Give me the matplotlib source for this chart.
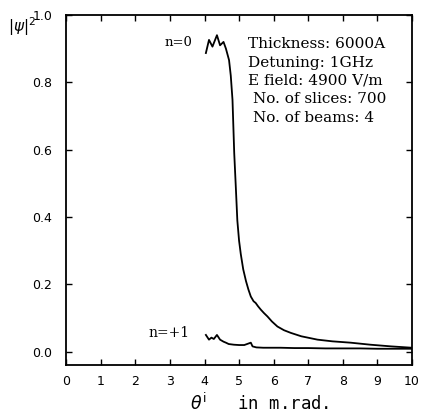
import matplotlib
matplotlib.use("Agg")
import matplotlib.pyplot as plt

# n=0 curve
x_n0 = [4.04, 4.13, 4.23, 4.36, 4.45, 4.55, 4.62, 4.71, 4.76, 4.81,
        4.86, 4.91, 4.95, 5.00, 5.05, 5.12, 5.20, 5.27, 5.34, 5.42, 5.48, 5.55, 5.63, 5.72, 5.82,
        5.95, 6.11, 6.30, 6.50, 6.80, 7.27, 7.70, 8.23, 8.80, 9.40, 10.0]
y_n0 = [0.887, 0.926, 0.906, 0.940, 0.910, 0.920, 0.900, 0.866, 0.820, 0.748,
        0.590, 0.480, 0.390, 0.330, 0.290, 0.245, 0.210, 0.185, 0.164, 0.150, 0.145, 0.135, 0.125, 0.115, 0.105,
        0.090, 0.075, 0.064, 0.056, 0.046, 0.036, 0.031, 0.027, 0.021, 0.016, 0.012]

# n=+1 curve
x_n1 = [4.04, 4.13, 4.20, 4.27, 4.36, 4.45, 4.55, 4.62, 4.70, 4.85, 5.00, 5.15, 5.34,
        5.39, 5.50, 5.70, 5.90, 6.20, 6.60, 7.00, 7.50, 8.00, 8.50, 9.00, 9.50, 10.0]
y_n1 = [0.050, 0.036, 0.042, 0.038, 0.050, 0.036, 0.030, 0.027, 0.023, 0.021, 0.020, 0.020, 0.027,
        0.016, 0.013, 0.012, 0.012, 0.012, 0.011, 0.011, 0.010, 0.010, 0.010, 0.009, 0.009, 0.009]

xticks = [0, 1, 2, 3, 4, 5, 6, 7, 8, 9, 10]
yticks = [0.0, 0.2, 0.4, 0.6, 0.8, 1.0]
info_lines = ["Thickness: 6000A", "Detuning: 1GHz", "E field: 4900 V/m",
              "No. of slices: 700", "No. of beams: 4"]

fig = plt.figure(figsize=(4.22, 4.16), dpi=100)
ax = fig.add_axes([0.157, 0.122, 0.819, 0.842])

ax.plot(x_n0, y_n0, color="black", lw=1.3)
ax.plot(x_n1, y_n1, color="black", lw=1.3)

ax.set_xlim(0, 10)
ax.set_ylim(-0.04, 1.0)
ax.set_xticks(xticks)
ax.set_xticklabels([str(t) for t in xticks])
ax.set_yticks(yticks)
ax.set_yticklabels([f"{t:.1f}" for t in yticks])
ax.tick_params(direction="in", top=True, right=True, length=4, width=1,
               labelsize=9)
ax.tick_params(axis="y", pad=10)
ax.tick_params(axis="x", pad=7)
for lab in ax.get_xticklabels() + ax.get_yticklabels():
    lab.set_family("DejaVu Sans")
for s in ax.spines.values():
    s.set_linewidth(1.3)

ax.text(3.26, 0.917, "n=0", fontsize=9.5, family="DejaVu Serif", ha="center", va="center")
ax.text(2.97, 0.056, "n=+1", fontsize=10, family="DejaVu Serif", ha="center", va="center")

ys = [0.915, 0.857, 0.804, 0.750, 0.693]
xs = [5.25, 5.25, 5.25, 5.4, 5.4]
for t, yy, xx in zip(info_lines, ys, xs):
    ax.text(xx, yy, t, fontsize=11, family="DejaVu Serif", ha="left", va="center")

fig.text(0.052, 0.935, r"$|\psi|^2$", fontsize=11, ha="center", va="center")
ax.set_xlabel(r"$\theta^{\mathrm{i}}$" + "   in m.rad.", fontsize=12.5, family="DejaVu Sans Mono", labelpad=3)
ax.xaxis.label.set_x(0.56)

fig.savefig("out.png", dpi=100)
